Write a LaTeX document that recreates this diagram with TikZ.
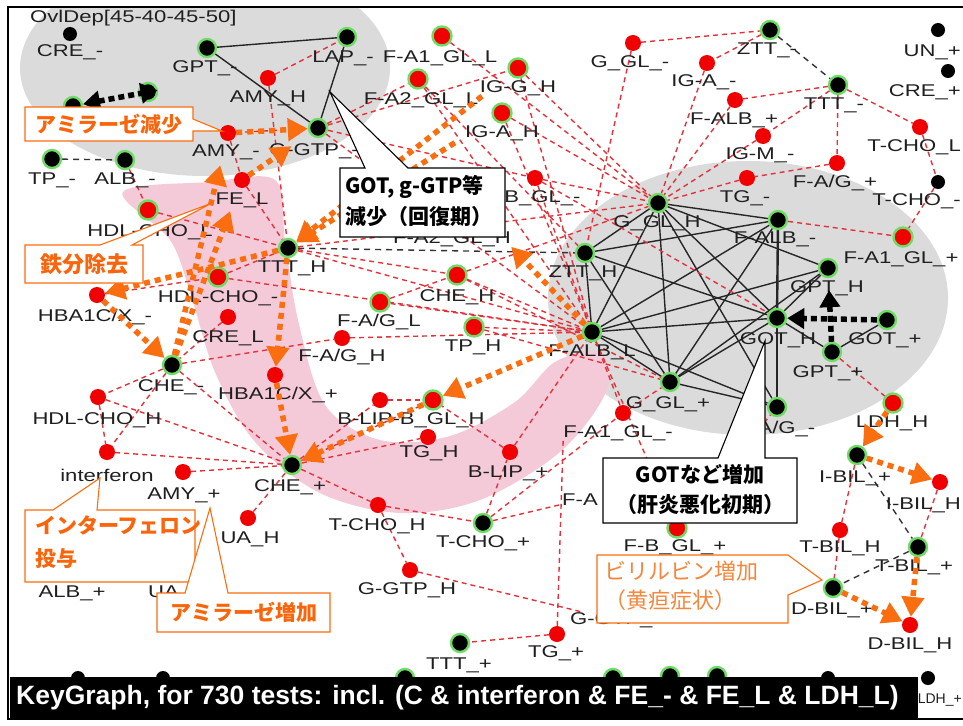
\documentclass[tikz,border=0pt]{standalone}
\usepackage{fontspec}
\setmainfont{Liberation Sans}
\newfontfamily\lab[FakeStretch=1.3]{Liberation Sans}
\newfontfamily\jp{Noto Sans CJK JP}
\usetikzlibrary{arrows.meta}
\pgfdeclarelayer{bg}\pgfdeclarelayer{edges}\pgfdeclarelayer{top}
\pgfsetlayers{bg,edges,main,top}
\definecolor{ringg}{RGB}{110,220,100}
\definecolor{dotred}{RGB}{240,0,0}
\definecolor{edgered}{RGB}{228,50,60}
\definecolor{clustergray}{RGB}{219,219,219}
\definecolor{pinkband}{RGB}{244,202,216}
\definecolor{orng}{RGB}{250,110,15}
\definecolor{calltxt}{RGB}{250,100,10}
\definecolor{biliorng}{RGB}{245,135,60}
% marker node plus its label below
\newcommand{\mknode}[6]{\node[#4] (#1) at (#2,#3) {}; \node[lbl] (#1l) at (#5) {#6};}
\begin{document}
\begin{tikzpicture}[x=1pt,y=-1pt,
  bk/.style={circle,fill=black,inner sep=0,minimum size=14},
  bkg/.style={circle,fill=black,draw=ringg,line width=2.4,inner sep=0,minimum size=18},
  rd/.style={circle,fill=dotred,inner sep=0,minimum size=16},
  rdg/.style={circle,fill=dotred,draw=ringg,line width=2.4,inner sep=0,minimum size=19},
  lbl/.style={font=\lab\fontsize{17}{19}\selectfont,inner sep=0,text=black!88},
  rdash/.style={draw=edgered,line width=1.4,dash pattern=on 5pt off 4pt},
  kline/.style={draw=black!85,line width=1.4},
  kdash/.style={draw=black!80,line width=1.4,dash pattern=on 6pt off 5pt},
  oarr/.style={draw=orng,line width=5.5,dash pattern=on 6pt off 5pt,-{Triangle[length=20pt,width=22pt]}},
  karr/.style={draw=black,line width=5.5,dash pattern=on 6pt off 4pt,-{Triangle[length=17pt,width=20pt]}},
  callO/.style={draw=orng,line width=1.1,fill=white},
  callK/.style={draw=black,line width=1.1,fill=white},
  jpb/.style={font=\jp\bfseries\fontsize{21}{24}\selectfont,inner sep=0},
]
\useasboundingbox (0,0) rectangle (963,725);

% ---------- shaded clusters ----------
\begin{pgfonlayer}{bg}
\fill[white] (0,0) rectangle (963,725);
\begin{scope}
\clip (8,7) rectangle (963,719);
\fill[clustergray] (205,68) ellipse [x radius=185, y radius=108];
\fill[clustergray] (748,298) ellipse [x radius=200, y radius=137];
\fill[pinkband] plot[smooth cycle,tension=0.55] coordinates {
  (123,192) (210,182) (275,180) (285,240) (298,320) (325,405) (380,440)
  (450,436) (515,402) (555,362) (600,352) (606,392) (560,452) (480,500)
  (400,513) (320,493) (255,442) (215,372) (190,292) (170,240)};
\end{scope}
\end{pgfonlayer}

% ---------- nodes ----------
% upper left group
\mknode{creM}{70}{34}{bk}{70,52}{CRE\_-}
\mknode{gptM}{207}{48}{bkg}{205,68}{GPT\_-}
\mknode{lapM}{347}{37}{bkg}{343,58}{LAP\_-}
\mknode{amyH}{268}{78}{rd}{268,98}{AMY\_H}
\mknode{ggtpM}{318}{128}{bkg}{314,151}{G-GTP\_-}
\mknode{amyM}{228}{133}{rd}{226,152}{AMY\_-}
\node[bkg] (sideA) at (73,106) {};
\node[bkg] (sideB) at (148,92) {};
\mknode{tpM}{52}{159}{bkg}{52,180}{TP\_-}
\mknode{albM}{125}{160}{bkg}{125,180}{ALB\_-}
\mknode{hdlL}{148}{210}{rdg}{150,232}{HDL-CHO\_L}
\mknode{feL}{242}{180}{rd}{242,200}{FE\_L}
\mknode{tttH}{288}{248}{bkg}{292,268}{TTT\_H}
\mknode{hdlM}{218}{277}{rdg}{218,298}{HDL-CHO\_-}
\mknode{hbaM}{97}{295}{rd}{95,317}{HBA1C/X\_-}
\mknode{creL}{228}{317}{rd}{228,338}{CRE\_L}
\mknode{cheM}{172}{365}{bkg}{171,387}{CHE\_-}
\mknode{hdlH}{98}{397}{rd}{97,420}{HDL-CHO\_H}
\mknode{ifn}{107}{452}{rd}{107,475}{interferon}
\mknode{amyP}{183}{472}{rd}{184,495}{AMY\_+}
\mknode{cheP}{292}{465}{bkg}{290,487}{CHE\_+}
\mknode{hbaP}{275}{375}{rd}{278,395}{HBA1C/X\_+}
\mknode{uaH}{248}{518}{rd}{250,539}{UA\_H}
\node[lbl] (albPl) at (72,593) {ALB\_+};
\node[lbl,anchor=west] (uaMl) at (148,593) {UA\_-};
% middle
\mknode{fagH}{342}{338}{rd}{342,357}{F-A/G\_H}
\mknode{fagL}{380}{302}{rdg}{379,322}{F-A/G\_L}
\mknode{cheH}{457}{275}{rdg}{457,297}{CHE\_H}
\mknode{tpH}{474}{327}{rdg}{473,347}{TP\_H}
\node[rd] (blipM) at (380,400) {};
\node[rdg] (bglH) at (433,400) {};
\node[lbl] (blipBglL) at (411,420) {B-LIP-B\_GL\_H};
\mknode{tgH}{428}{437}{rd}{429,453}{TG\_H}
\mknode{blipP}{510}{452}{rd}{508,473}{B-LIP\_+}
\mknode{fa1glM}{623}{413}{rd}{618,433}{F-A1\_GL\_-}
\mknode{tchoP}{483}{523}{bkg}{483,543}{T-CHO\_+}
\mknode{tchoH}{378}{505}{rd}{377,526}{T-CHO\_H}
\mknode{ggtpH}{410}{570}{rd}{407,590}{G-GTP\_H}
\mknode{tgP}{557}{634}{rd}{556,653}{TG\_+}
\mknode{tttP}{460}{643}{bkg}{459,665}{TTT\_+}
\node[lbl,anchor=west] (faXl) at (562,500) {F-A};
\node[lbl] (ggtpMl2) at (615,620) {G-GTP\_-};
% upper middle
\mknode{fa1glL}{442}{36}{rdg}{440,58}{F-A1\_GL\_L}
\mknode{fa2glL}{418}{79}{rdg}{421,100}{F-A2\_GL\_L}
\mknode{iggH}{518}{68}{rdg}{518,88}{IG-G\_H}
\mknode{igaH}{502}{113}{rdg}{502,133}{IG-A\_H}
\mknode{fbglM}{535}{178}{rd}{532,198}{F-B\_GL\_-}
\node[lbl] (fa2glHl) at (452,239) {F-A2\_GL\_H};
\mknode{gglM}{633}{43}{rd}{630,63}{G\_GL\_-}
% upper right
\mknode{zttM}{770}{30}{bkg}{767,50}{ZTT\_-}
\mknode{igaM}{707}{63}{rd}{704,82}{IG-A\_-}
\mknode{tttM}{838}{85}{bkg}{834,105}{TTT\_-}
\mknode{falbP}{735}{100}{rd}{734,120}{F-ALB\_+}
\mknode{igmM}{763}{136}{rd}{760,155}{IG-M\_-}
\mknode{fagP}{837}{163}{rd}{835,183}{F-A/G\_+}
\mknode{tgM}{747}{178}{rd}{745,198}{TG\_-}
\node[bk] (unP) at (938,30) {}; \node[lbl,anchor=east] (unPl) at (961,52) {UN\_+};
\node[bk] (creP) at (948,71) {}; \node[lbl,anchor=east] (crePl) at (961,92) {CRE\_+};
\node[rd] (tchoL) at (920,127) {}; \node[lbl,anchor=east] (tchoLl) at (961,147) {T-CHO\_L};
\node[bk] (tchoM) at (938,182) {}; \node[lbl,anchor=east] (tchoMl) at (961,201) {T-CHO\_-};
% right group
\mknode{gglH}{658}{203}{bkg}{657,223}{G\_GL\_H}
\mknode{falbM}{778}{220}{bkg}{775,239}{F-ALB\_-}
\mknode{fa1glP}{903}{237}{rdg}{901,259}{F-A1\_GL\_+}
\mknode{zttH}{585}{253}{bkg}{583,273}{ZTT\_H}
\mknode{falbL}{592}{332}{bkg}{592,352}{F-ALB\_L}
\mknode{gotH}{777}{318}{bkg}{778,340}{GOT\_H}
\mknode{gptH}{828}{268}{bkg}{827,288}{GPT\_H}
\mknode{gotP}{887}{320}{bkg}{885,340}{GOT\_+}
\mknode{gptP}{832}{352}{bkg}{828,373}{GPT\_+}
\mknode{gglP}{670}{382}{bkg}{668,404}{G\_GL\_+}
\mknode{fagM}{777}{407}{bkg}{776,429}{F-A/G\_-}
\mknode{ldhH}{893}{403}{rdg}{892,423}{LDH\_H}
\mknode{ibilP}{857}{455}{bkg}{855,478}{I-BIL\_+}
\node[rd] (ibilH) at (940,482) {}; \node[lbl,anchor=east] (ibilHl) at (961,505) {I-BIL\_H};
\mknode{fbglP}{677}{528}{rdg}{675,547}{F-B\_GL\_+}
\mknode{tbilH}{840}{530}{rd}{840,548}{T-BIL\_H}
\mknode{tbilP}{918}{547}{bkg}{914,567}{T-BIL\_+}
\mknode{dbilM}{833}{588}{bkg}{832,610}{D-BIL\_+}
\mknode{dbilH}{910}{625}{rd}{910,645}{D-BIL\_H}
% bottom row
\node[bk] (b1) at (78,678) {};
\node[bk] (b2) at (163,678) {};
\node[bkg] (b3) at (405,678) {};
\node[bkg] (b4) at (613,678) {};
\node[bkg] (b5) at (670,676) {};
\node[bkg] (b6) at (717,676) {};
\node[bk] (b7) at (828,678) {};
\node[bk] (b8) at (928,678) {};
\node[inner sep=0,anchor=east,text=black!88,font=\fontsize{14}{16}\selectfont] (b8l) at (962,700) {LDH\_+};
\node[lbl,anchor=west] (ovl) at (30,18) {OvlDep[45-40-45-50]};

% ---------- connectors ----------
\begin{pgfonlayer}{edges}
\foreach \a/\b in {gptM/lapM,gptM/ggtpM,lapM/ggtpM,
  falbL/zttH,falbL/gglH,falbL/falbM,falbL/gotH,falbL/gptH,falbL/gglP,falbL/fagM,
  gglH/gglP,gglH/gotH,gglH/falbM,gglH/zttH,gglH/fagM,gglH/gptH,
  zttH/gotH,zttH/gglP,zttH/falbM,falbM/gglP,
  gotH/gglP,gotH/gptH,gotH/gptP,gglP/fagM,gptH/gglP,gptP/gotP}
  \draw[kline] (\a) -- (\b);
\draw[kline,line width=2.4] (falbM) -- (gotH);
\draw[kline,line width=2.4] (gotH) -- (fagM);
\foreach \a/\b in {tpM/albM,zttM/tttM,tttH/zttH,ibilP/tbilP,tbilP/dbilM}
  \draw[kdash] (\a) -- (\b);
\foreach \a/\b in {amyH/lapM,amyH/tttH,amyM/ggtpM,amyM/feL,albM/hdlL,hdlL/tttH,feL/tttH,
  ggtpM/fa2glL,ggtpM/fbglM,ggtpM/falbL,ggtpM/iggH,fa1glL/gglH,iggH/gglH,iggH/falbL,
  igaH/gglH,igaH/falbL,fa2glL/falbL,fa2glL/zttH,fbglM/gglH,fbglM/falbL,fbglM/gotH,
  gglM/zttH,gglM/zttM,zttM/igaM,igaM/gglH,tttM/falbP,falbP/gglH,tttM/igmM,igmM/gglH,
  tttM/fagP,fagP/tgM,tgM/gglH,tttM/tchoL,tchoL/tchoM,tchoM/fa1glP,falbM/fa1glP,
  tttH/falbL,tttH/cheH,tttH/gglH,hdlM/falbL,hdlM/tttH,hbaM/hdlM,fagL/falbL,cheH/falbL,
  tpH/falbL,fagH/falbL,fagL/gglH,cheH/gglP,tpH/gglP,creL/cheM,cheM/hdlH,cheM/fagH,
  cheM/cheP,cheM/ifn,hdlH/ifn,hdlH/cheP,ifn/cheP,amyP/cheP,uaH/cheP,cheP/tchoH,
  cheP/blipM,cheP/bglH,cheP/tgH,blipM/bglH,tchoH/tchoP,tchoH/ggtpH,tchoP/blipP,
  tchoP/faXl,tchoP/fa1glM,blipP/falbL,blipP/bglH,tgP/tttP,fa1glM/gglP,fa1glM/falbL,
  falbL/fbglP,fbglP/fagM,gptP/ldhH,ibilP/tbilH,tbilH/dbilM,ibilH/tbilP,ggtpH/ggtpMl2}
  \draw[rdash] (\a) -- (\b);
\draw[rdash] (tgP) -- (fa1glMl.south west);
\end{pgfonlayer}

% ---------- highlighted transitions ----------
\draw[oarr] (amyM) -- (ggtpM);
\draw[oarr,shorten >=22pt] (feL) -- (ggtpM);
\draw[oarr,shorten >=25pt] (cheM) -- (amyM);
\draw[oarr,shorten >=25pt] (cheM) -- (feL);
\draw[oarr] (tttH) -- (hbaM);
\draw[oarr] (hbaM) -- (cheM);
\draw[oarr] (tttH) -- (hbaP);
\draw[oarr] (hbaP) -- (cheP);
\draw[oarr] (falbL) -- (bglH);
\draw[oarr] (bglH) -- (cheP);
\draw[oarr] (falbL) -- (fa2glHl.south east);
\draw[oarr,shorten <=35pt] (iggH) -- (tttH);
\draw[oarr,shorten <=45pt] (igaH) -- (tttH);
\draw[oarr] (ldhH) -- (ibilP);
\draw[oarr] (ibilP) -- (ibilH);
\draw[oarr] (dbilM) -- (dbilH);
\draw[oarr] (tbilP) -- (dbilH);
\draw[karr] (gotP) -- (gotH);
\draw[karr,shorten >=12pt] (gptP) -- (gptH);
\draw[karr,{Triangle[length=17pt,width=20pt]}-{Triangle[length=17pt,width=20pt]},shorten >=-20pt] (sideA) -- (sideB);

% ---------- callouts, caption, frame ----------
\begin{pgfonlayer}{top}
\draw[callO] (25,107) -- (193,107) -- (193,119) -- (222,131) -- (193,131) -- (193,141) -- (25,141) -- cycle;
\node[jpb,text=calltxt] (cAmyDown) at (109,124) {アミラーゼ減少};
\draw[callO] (25,245) -- (100,245) -- (212,203) -- (132,245) -- (143,245) -- (143,283) -- (25,283) -- cycle;
\node[jpb,text=calltxt,font=\jp\bfseries\fontsize{22}{24}\selectfont] (cFe) at (84,264) {鉄分除去};
\draw[callK] (340,168) -- (365,168) -- (330,92) -- (408,168) -- (505,168) -- (505,237) -- (340,237) -- cycle;
\node[jpb,align=left,anchor=north west,font=\jp\bfseries\fontsize{21}{31}\selectfont] (cGotDown) at (345,175) {GOT, g-GTP等\\減少（回復期）};
\draw[callK] (603,458) -- (718,458) -- (765,341) -- (765,458) -- (797,458) -- (797,523) -- (603,523) -- cycle;
\node[jpb,align=center,font=\jp\bfseries\fontsize{21}{30}\selectfont] (cGotUp) at (700,490) {GOTなど増加\\（肝炎悪化初期）};
\draw[callO] (597,555) -- (788,555) -- (822,580) -- (788,595) -- (788,623) -- (597,623) -- cycle;
\node[inner sep=0,align=left,anchor=north west,text=biliorng,font=\jp\fontsize{22}{29}\selectfont] (cBili) at (604,561) {ビリルビン増加\\（黄疸症状）};
\draw[callO] (25,510) -- (53,510) -- (100,478) -- (97,510) -- (195,510) -- (195,582) -- (25,582) -- cycle;
\node[jpb,text=calltxt,align=left,anchor=north west,font=\jp\bfseries\fontsize{21}{33}\selectfont] (cIfn) at (35,515) {インターフェロン\\投与};
\draw[callO] (157,593) -- (185,593) -- (210,508) -- (228,593) -- (330,593) -- (330,632) -- (157,632) -- cycle;
\node[jpb,text=calltxt] (cAmyUp) at (244,612) {アミラーゼ増加};
\fill[black] (10,677) rectangle (918,718);
\node[anchor=west,inner sep=0,text=white,font=\bfseries\fontsize{26.5}{29}\selectfont] (caption) at (16,698) {KeyGraph, for 730 tests: incl. (C \& interferon \& FE\_- \& FE\_L \& LDH\_L)};
\draw[line width=2.5] (8,7) rectangle (975,719);
\end{pgfonlayer}
\end{tikzpicture}
\end{document}
